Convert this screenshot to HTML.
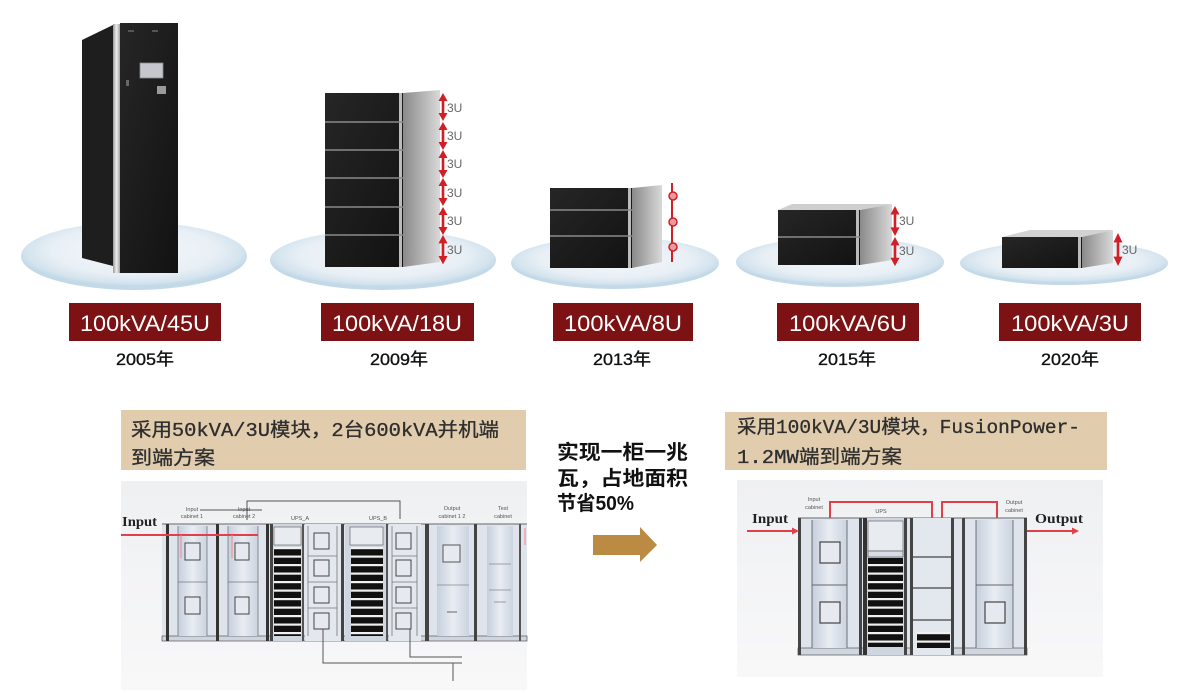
<!DOCTYPE html>
<html><head><meta charset="utf-8">
<style>html,body{margin:0;padding:0;background:#fff;}svg{display:block}</style></head>
<body>
<svg width="1191" height="693" viewBox="0 0 1191 693" xmlns="http://www.w3.org/2000/svg" font-family="'Liberation Sans','Noto Sans CJK SC',sans-serif">
<defs>
 <radialGradient id="disk" cx="50%" cy="42%" r="52%">
  <stop offset="0" stop-color="#f5f8fa"/>
  <stop offset="0.7" stop-color="#e8eff5"/>
  <stop offset="0.93" stop-color="#d3e3ee"/>
  <stop offset="1" stop-color="#c4d9e8"/>
 </radialGradient>
 <linearGradient id="side" x1="0" x2="1"><stop offset="0" stop-color="#8a8a8a"/><stop offset="1" stop-color="#d9d9d9"/></linearGradient>
 <linearGradient id="silver" x1="0" x2="1"><stop offset="0" stop-color="#9a9a9a"/><stop offset="0.5" stop-color="#eeeeee"/><stop offset="1" stop-color="#a0a0a0"/></linearGradient>
 <linearGradient id="front" x1="0" y1="0" x2="1" y2="1"><stop offset="0" stop-color="#262626"/><stop offset="1" stop-color="#121212"/></linearGradient>
 <pattern id="mods" width="40" height="8.5" patternUnits="userSpaceOnUse"><rect width="40" height="8.5" fill="#111"/><rect x="0" y="3" width="40" height="2.2" fill="#f0f0f0"/></pattern>
 <linearGradient id="bgd" x1="0" y1="0" x2="0" y2="1"><stop offset="0" stop-color="#eff0f2"/><stop offset="1" stop-color="#f8f8f9"/></linearGradient>
 <linearGradient id="panel" x1="0" x2="1"><stop offset="0" stop-color="#c6cfdd"/><stop offset="0.5" stop-color="#e9edf3"/><stop offset="1" stop-color="#cbd3e0"/></linearGradient>
 <g id="ar">
  <line x1="0" y1="5" x2="0" y2="23" stroke="#d21f26" stroke-width="2.6"/>
  <polygon points="-4.5,8 0,0 4.5,8" fill="#d21f26"/>
  <polygon points="-4.5,20 0,28 4.5,20" fill="#d21f26"/>
 </g>
</defs>

<rect width="1191" height="693" fill="#fff"/>

<!-- disks -->
<ellipse cx="134" cy="256" rx="113" ry="34" fill="url(#disk)"/>
<ellipse cx="383" cy="260" rx="113" ry="30" fill="url(#disk)"/>
<ellipse cx="615" cy="263" rx="104" ry="26" fill="url(#disk)"/>
<ellipse cx="840" cy="262" rx="104" ry="25" fill="url(#disk)"/>
<ellipse cx="1064" cy="263" rx="104" ry="22" fill="url(#disk)"/>

<!-- 2005 cabinet -->
<polygon points="82,40 113,25 113,266 82,258" fill="#1e1e1e"/>
<rect x="113" y="24" width="7" height="249" fill="url(#silver)"/>
<rect x="120" y="23" width="58" height="250" fill="url(#front)"/>
<rect x="140" y="63" width="23" height="15" fill="#c4c8cc" stroke="#888" stroke-width="0.8"/>
<rect x="157" y="86" width="9" height="8" fill="#9a9a9a"/>
<rect x="126" y="80" width="3" height="6" fill="#666"/>
<rect x="128" y="30" width="6" height="2" fill="#555"/>
<rect x="152" y="30" width="6" height="2" fill="#555"/>

<!-- 2009 stack -->
<polygon points="403,93 440,90 440,262 403,267" fill="url(#side)"/>
<rect x="325" y="93" width="78" height="174" fill="url(#front)"/>
<rect x="399" y="93" width="3" height="174" fill="#bbb"/>
<g stroke="#8a8a8a" stroke-width="1.5">
 <line x1="325" y1="122" x2="403" y2="122"/><line x1="325" y1="150" x2="403" y2="150"/>
 <line x1="325" y1="178" x2="403" y2="178"/><line x1="325" y1="207" x2="403" y2="207"/>
 <line x1="325" y1="235" x2="403" y2="235"/>
</g>
<g fill="#666" font-size="12">
 <text x="447" y="112">3U</text><text x="447" y="140">3U</text><text x="447" y="168">3U</text>
 <text x="447" y="197">3U</text><text x="447" y="225">3U</text><text x="447" y="254">3U</text>
</g>
<use href="#ar" transform="translate(443,93)"/>
<use href="#ar" transform="translate(443,122)"/>
<use href="#ar" transform="translate(443,150)"/>
<use href="#ar" transform="translate(443,178)"/>
<use href="#ar" transform="translate(443,207)"/>
<use href="#ar" transform="translate(443,235) scale(1,1.05)"/>

<!-- 2013 -->
<polygon points="632,188 662,185 662,262 632,268" fill="url(#side)"/>
<rect x="550" y="188" width="82" height="80" fill="url(#front)"/>
<rect x="628" y="188" width="3" height="80" fill="#bbb"/>
<g stroke="#8a8a8a" stroke-width="1.5"><line x1="550" y1="210" x2="632" y2="210"/><line x1="550" y1="236" x2="632" y2="236"/></g>
<line x1="672" y1="183" x2="672" y2="262" stroke="#d21f26" stroke-width="2"/>
<g fill="#e79aa0" stroke="#d21f26" stroke-width="1.5">
 <circle cx="673" cy="196" r="4"/><circle cx="673" cy="222" r="4"/><circle cx="673" cy="247" r="4"/>
</g>

<!-- 2015 -->
<polygon points="778,210 792,204 892,204 860,210" fill="#cfcfcf"/>
<polygon points="860,210 892,204 892,260 860,265" fill="url(#side)"/>
<rect x="778" y="210" width="82" height="55" fill="url(#front)"/>
<rect x="856" y="210" width="3" height="55" fill="#bbb"/>
<line x1="778" y1="237" x2="860" y2="237" stroke="#8a8a8a" stroke-width="1.5"/>
<g fill="#666" font-size="12"><text x="899" y="225">3U</text><text x="899" y="255">3U</text></g>
<use href="#ar" transform="translate(895,206) scale(1,1.07)"/>
<use href="#ar" transform="translate(895,237) scale(1,1.04)"/>

<!-- 2020 -->
<polygon points="1002,237 1030,230 1113,230 1082,237" fill="#d2d2d2"/>
<polygon points="1082,237 1113,230 1113,263 1082,268" fill="url(#side)"/>
<rect x="1002" y="237" width="80" height="31" fill="url(#front)"/>
<rect x="1078" y="237" width="3" height="31" fill="#bbb"/>
<text x="1122" y="254" fill="#666" font-size="12">3U</text>
<use href="#ar" transform="translate(1118,233) scale(1,1.18)"/>

<!-- labels -->
<g fill="#7c1214">
 <rect x="69" y="303" width="152" height="38"/>
 <rect x="321" y="303" width="153" height="38"/>
 <rect x="553" y="303" width="140" height="38"/>
 <rect x="777" y="303" width="142" height="38"/>
 <rect x="999" y="303" width="142" height="38"/>
</g>
<g fill="#fff" font-size="22" text-anchor="middle">
 <text x="145" y="331" textLength="130" lengthAdjust="spacingAndGlyphs">100kVA/45U</text>
 <text x="397" y="331" textLength="130" lengthAdjust="spacingAndGlyphs">100kVA/18U</text>
 <text x="623" y="331" textLength="118" lengthAdjust="spacingAndGlyphs">100kVA/8U</text>
 <text x="848" y="331" textLength="118" lengthAdjust="spacingAndGlyphs">100kVA/6U</text>
 <text x="1070" y="331" textLength="118" lengthAdjust="spacingAndGlyphs">100kVA/3U</text>
</g>
<g fill="#111" stroke="#111" stroke-width="0.35" font-size="17" text-anchor="middle">
 <text x="145" y="365" textLength="58" lengthAdjust="spacingAndGlyphs">2005年</text>
 <text x="399" y="365" textLength="58" lengthAdjust="spacingAndGlyphs">2009年</text>
 <text x="622" y="365" textLength="58" lengthAdjust="spacingAndGlyphs">2013年</text>
 <text x="847" y="365" textLength="58" lengthAdjust="spacingAndGlyphs">2015年</text>
 <text x="1070" y="365" textLength="58" lengthAdjust="spacingAndGlyphs">2020年</text>
</g>

<!-- tan boxes -->
<rect x="121" y="410" width="405" height="60" fill="#e1ccad"/>
<rect x="725" y="412" width="382" height="58" fill="#e1ccad"/>
<g fill="#2e2e2e" stroke="#2e2e2e" stroke-width="0.3" font-size="19" font-family="'Liberation Mono','Noto Sans CJK SC',monospace">
 <text x="131" y="436" textLength="368" lengthAdjust="spacingAndGlyphs">采用50kVA/3U模块，2台600kVA并机端</text>
 <text x="131" y="464" textLength="84" lengthAdjust="spacingAndGlyphs">到端方案</text>
 <text x="737" y="433" textLength="343" lengthAdjust="spacingAndGlyphs">采用100kVA/3U模块，FusionPower-</text>
 <text x="737" y="463" textLength="165" lengthAdjust="spacingAndGlyphs">1.2MW端到端方案</text>
</g>

<!-- middle text and arrow -->
<g fill="#111" font-size="20" font-weight="bold" font-family="'Liberation Sans','Noto Sans CJK SC',sans-serif">
 <text x="557" y="459" textLength="131" lengthAdjust="spacingAndGlyphs">实现一柜一兆</text>
 <text x="557" y="485" textLength="131" lengthAdjust="spacingAndGlyphs">瓦，占地面积</text>
 <text x="557" y="510" textLength="77" lengthAdjust="spacingAndGlyphs">节省50%</text>
</g>
<polygon points="593,535 640,535 640,527 657,545 640,562 640,555 593,555" fill="#bb8a43"/>

<!-- LEFT DIAGRAM -->
<rect x="121" y="481" width="406" height="209" fill="url(#bgd)"/>
<rect x="162" y="524" width="365" height="117" fill="#dfe4ec"/>
<line x1="162" y1="524" x2="527" y2="524" stroke="#666" stroke-width="1"/>
<rect x="162" y="636" width="365" height="5" fill="#cfd5de" stroke="#666" stroke-width="0.8"/>
<!-- input cab 1 -->
<rect x="178" y="526" width="29" height="110" fill="url(#panel)"/>
<rect x="166" y="524" width="3" height="117" fill="#333"/>
<rect x="216" y="524" width="3" height="117" fill="#333"/>
<g stroke="#777" stroke-width="0.8"><line x1="178" y1="526" x2="178" y2="636"/><line x1="207" y1="526" x2="207" y2="636"/><line x1="178" y1="582" x2="207" y2="582"/></g>
<rect x="185" y="543" width="15" height="17" fill="#e6eaf0" stroke="#444" stroke-width="1"/>
<rect x="185" y="597" width="15" height="17" fill="#e6eaf0" stroke="#444" stroke-width="1"/>
<!-- input cab 2 -->
<rect x="228" y="526" width="30" height="110" fill="url(#panel)"/>
<rect x="266" y="524" width="3" height="117" fill="#333"/>
<g stroke="#777" stroke-width="0.8"><line x1="228" y1="526" x2="228" y2="636"/><line x1="258" y1="526" x2="258" y2="636"/><line x1="228" y1="582" x2="258" y2="582"/></g>
<rect x="235" y="543" width="14" height="17" fill="#e6eaf0" stroke="#444" stroke-width="1"/>
<rect x="235" y="597" width="14" height="17" fill="#e6eaf0" stroke="#444" stroke-width="1"/>
<!-- UPS_A -->
<rect x="270" y="524" width="34" height="117" fill="#cfd6e0"/>
<rect x="270" y="524" width="3" height="117" fill="#444"/>
<rect x="302" y="524" width="2" height="117" fill="#555"/>
<rect x="274" y="527" width="27" height="18" fill="#e8ecf1" stroke="#777" stroke-width="0.8"/>
<rect x="274" y="547" width="27" height="89" fill="url(#mods)"/>
<!-- panel A -->
<rect x="305" y="524" width="37" height="117" fill="#e3e7ee"/>
<g stroke="#777" stroke-width="0.8"><line x1="308" y1="526" x2="308" y2="636"/><line x1="337" y1="526" x2="337" y2="636"/>
<line x1="308" y1="556" x2="337" y2="556"/><line x1="308" y1="582" x2="337" y2="582"/><line x1="308" y1="608" x2="337" y2="608"/></g>
<g fill="#e6eaf0" stroke="#444" stroke-width="1">
 <rect x="314" y="533" width="15" height="16"/><rect x="314" y="560" width="15" height="16"/>
 <rect x="314" y="587" width="15" height="16"/><rect x="314" y="613" width="15" height="16"/>
</g>
<rect x="341" y="524" width="3" height="117" fill="#444"/>
<!-- UPS_B -->
<rect x="345" y="524" width="42" height="117" fill="#cfd6e0"/>
<rect x="350" y="527" width="33" height="18" fill="#e8ecf1" stroke="#777" stroke-width="0.8"/>
<rect x="351" y="547" width="32" height="89" fill="url(#mods)"/>
<rect x="386" y="524" width="2" height="117" fill="#555"/>
<!-- panel B -->
<rect x="389" y="524" width="32" height="117" fill="#e3e7ee"/>
<g stroke="#777" stroke-width="0.8"><line x1="392" y1="526" x2="392" y2="636"/><line x1="417" y1="526" x2="417" y2="636"/>
<line x1="392" y1="556" x2="417" y2="556"/><line x1="392" y1="582" x2="417" y2="582"/><line x1="392" y1="608" x2="417" y2="608"/></g>
<g fill="#e6eaf0" stroke="#444" stroke-width="1">
 <rect x="396" y="533" width="15" height="16"/><rect x="396" y="560" width="15" height="16"/>
 <rect x="396" y="587" width="15" height="16"/><rect x="396" y="613" width="15" height="16"/>
</g>
<!-- output cab -->
<rect x="425" y="524" width="4" height="117" fill="#444"/>
<rect x="437" y="526" width="32" height="110" fill="url(#panel)"/>
<rect x="474" y="524" width="3" height="117" fill="#444"/>
<line x1="437" y1="585" x2="469" y2="585" stroke="#888" stroke-width="0.8"/>
<rect x="443" y="545" width="17" height="17" fill="#e6eaf0" stroke="#555" stroke-width="1"/>
<line x1="447" y1="612" x2="457" y2="612" stroke="#666"/>
<!-- test cab -->
<rect x="487" y="526" width="26" height="110" fill="url(#panel)"/>
<rect x="519" y="524" width="2" height="117" fill="#555"/>
<g stroke="#888" stroke-width="0.8"><line x1="489" y1="564" x2="511" y2="564"/><line x1="489" y1="590" x2="511" y2="590"/><line x1="494" y1="602" x2="506" y2="602"/></g>
<!-- input line -->
<line x1="121" y1="535" x2="258" y2="535" stroke="#e0404a" stroke-width="2"/>
<g stroke="#e88" stroke-width="1"><line x1="181" y1="535" x2="181" y2="558"/><line x1="232" y1="535" x2="232" y2="558"/><line x1="525" y1="528" x2="525" y2="545"/></g>
<text x="122" y="526" font-family="'Liberation Serif',serif" font-weight="bold" font-size="14" fill="#222" textLength="35" lengthAdjust="spacingAndGlyphs">Input</text>
<!-- tiny labels -->
<g font-size="5.5" fill="#555" text-anchor="middle">
 <text x="192" y="511">Input</text><text x="192" y="518">cabinet 1</text>
 <text x="244" y="511">Input</text><text x="244" y="518">cabinet 2</text>
 <text x="300" y="520">UPS_A</text><text x="378" y="520">UPS_B</text>
 <text x="452" y="510">Output</text><text x="452" y="518">cabinet 1 2</text>
 <text x="503" y="510">Test</text><text x="503" y="518">cabinet</text>
</g>
<g stroke="#555" stroke-width="1" fill="none">
 <path d="M247,520 V501 H400 V519"/>
 <path d="M200,510 H262"/>
 <path d="M323,629 V663 H462"/>
 <path d="M410,629 V657 H462"/>
 <path d="M453,663 V681"/>
</g>

<!-- RIGHT DIAGRAM -->
<rect x="737" y="480" width="366" height="197" fill="url(#bgd)"/>
<rect x="798" y="518" width="229" height="137" fill="#dfe4ec"/>
<line x1="798" y1="518" x2="1027" y2="518" stroke="#666" stroke-width="1"/>
<rect x="798" y="648" width="229" height="7" fill="#d0d6df" stroke="#666" stroke-width="0.8"/>
<!-- input cab -->
<rect x="798" y="518" width="3" height="137" fill="#444"/>
<rect x="812" y="520" width="35" height="128" fill="url(#panel)"/>
<g stroke="#666" stroke-width="0.9"><line x1="812" y1="520" x2="812" y2="648"/><line x1="847" y1="520" x2="847" y2="648"/><line x1="812" y1="585" x2="847" y2="585"/></g>
<rect x="859" y="518" width="3" height="137" fill="#444"/>
<rect x="820" y="542" width="20" height="21" fill="#e6eaf0" stroke="#444" stroke-width="1.2"/>
<rect x="820" y="602" width="20" height="21" fill="#e6eaf0" stroke="#444" stroke-width="1.2"/>
<!-- UPS -->
<rect x="863" y="518" width="44" height="137" fill="#cfd6e0"/>
<rect x="863" y="518" width="4" height="137" fill="#333"/>
<rect x="904" y="518" width="3" height="137" fill="#444"/>
<rect x="868" y="521" width="35" height="30" fill="#e8ecf1" stroke="#777" stroke-width="0.8"/>
<rect x="868" y="551" width="35" height="6" fill="#d8dde5" stroke="#666" stroke-width="0.8"/>
<rect x="868" y="558" width="35" height="89" fill="url(#mods)"/>
<!-- third -->
<rect x="910" y="518" width="44" height="137" fill="#e3e7ee"/>
<rect x="910" y="518" width="3" height="137" fill="#444"/>
<rect x="951" y="518" width="3" height="137" fill="#444"/>
<g stroke="#444" stroke-width="1.2"><line x1="913" y1="557" x2="951" y2="557"/><line x1="913" y1="588" x2="951" y2="588"/><line x1="913" y1="620" x2="951" y2="620"/></g>
<rect x="917" y="632" width="33" height="16" fill="url(#mods)"/>
<!-- output cab -->
<rect x="962" y="518" width="3" height="137" fill="#444"/>
<rect x="976" y="520" width="37" height="128" fill="url(#panel)"/>
<g stroke="#666" stroke-width="0.9"><line x1="976" y1="520" x2="976" y2="648"/><line x1="1013" y1="520" x2="1013" y2="648"/><line x1="976" y1="585" x2="1013" y2="585"/></g>
<rect x="1024" y="518" width="3" height="137" fill="#444"/>
<rect x="985" y="602" width="20" height="21" fill="#e6eaf0" stroke="#444" stroke-width="1.2"/>
<!-- red brackets & arrows -->
<g stroke="#e0404a" stroke-width="2" fill="none">
 <path d="M830,518 V502 H932 V518"/>
 <path d="M942,518 V502 H997 V518"/>
 <line x1="747" y1="531" x2="793" y2="531"/>
 <line x1="1027" y1="531" x2="1073" y2="531"/>
</g>
<polygon points="792,527.5 799,531 792,534.5" fill="#e0404a"/>
<polygon points="1072,527.5 1079,531 1072,534.5" fill="#e0404a"/>
<g font-family="'Liberation Serif',serif" font-weight="bold" font-size="14" fill="#222">
 <text x="752" y="523" textLength="36" lengthAdjust="spacingAndGlyphs">Input</text>
 <text x="1035" y="523" textLength="48" lengthAdjust="spacingAndGlyphs">Output</text>
</g>
<g font-size="5.5" fill="#555" text-anchor="middle">
 <text x="814" y="501">Input</text><text x="814" y="509">cabinet</text>
 <text x="881" y="513">UPS</text>
 <text x="1014" y="504">Output</text><text x="1014" y="512">cabinet</text>
</g>
</svg>
</body></html>
